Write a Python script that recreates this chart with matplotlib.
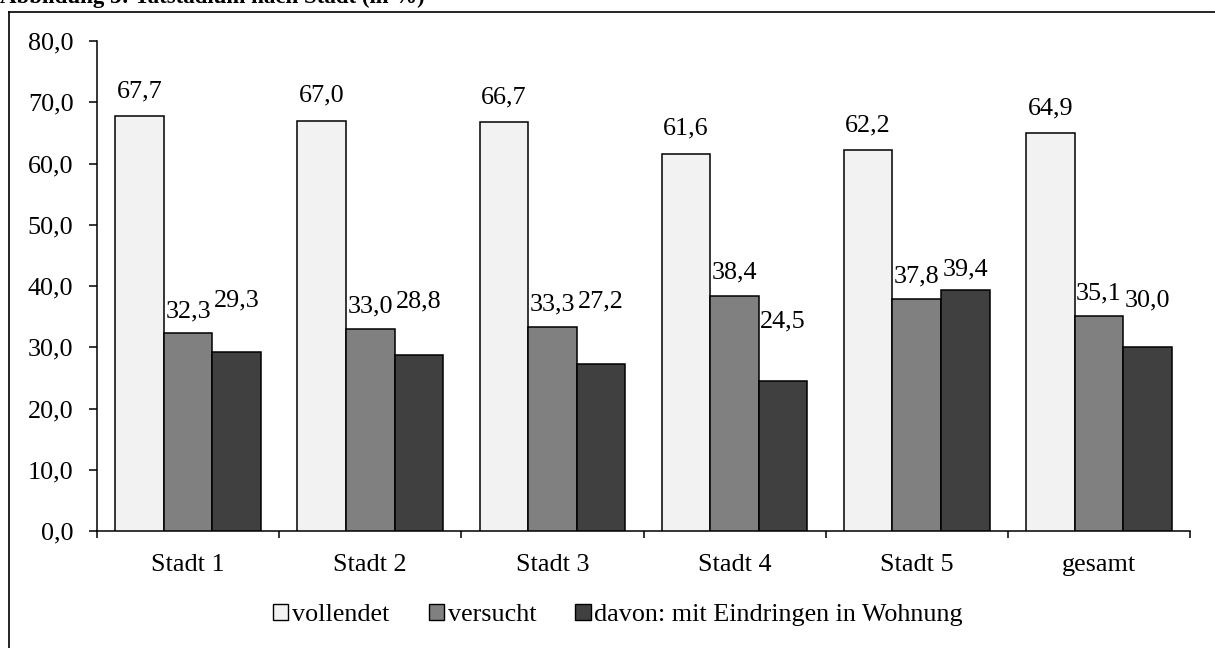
import matplotlib
matplotlib.use("Agg")
import matplotlib.pyplot as plt
from matplotlib.patches import Patch
from matplotlib.lines import Line2D
import numpy as np

categories = ["Stadt 1", "Stadt 2", "Stadt 3", "Stadt 4", "Stadt 5", "gesamt"]
vollendet = [67.7, 67.0, 66.7, 61.6, 62.2, 64.9]
versucht = [32.3, 33.0, 33.3, 38.4, 37.8, 35.1]
davon = [29.3, 28.8, 27.2, 24.5, 39.4, 30.0]
series_names = ["vollendet", "versucht", "davon: mit Eindringen in Wohnung"]
yticks = [0, 10, 20, 30, 40, 50, 60, 70, 80]
title = "Abbildung 3: Tatstadium nach Stadt (in %)"

colors = ["#f2f2f2", "#808080", "#404040"]
# label offsets above bar tops (points)
off_voll = [18.0] * 6
off_vers = [15.5, 16.5, 16.5, 16.5, 16.5, 16.5]
off_davon = [36.5, 38.5, 45.5, 42.5, 14.5, 33.5]

plt.rcParams['font.family'] = ['Liberation Serif', 'DejaVu Serif']
FS = 18.8

fig = plt.figure(figsize=(12.15, 6.48), dpi=100)
W, H = 1215, 648
ax = fig.add_axes([97 / W, 1 - 531 / H, (1190 - 97) / W, (531 - 41) / H])

x = np.arange(len(categories))
bw = 0.2667
series = [vollendet, versucht, davon]
offsets = [off_voll, off_vers, off_davon]
handles = []
for i, (vals, col, offs, name) in enumerate(zip(series, colors, offsets, series_names)):
    xs = x + (i - 1) * bw
    ax.bar(xs, vals, width=bw, color=col, edgecolor="black", linewidth=1.1, zorder=3)
    for xi, v, o in zip(xs, vals, offs):
        ax.annotate(f"{v:.1f}".replace(".", ","), (xi, v), xytext=(0, o),
                    textcoords="offset points", ha="center", va="center", fontsize=FS)
    handles.append(Patch(facecolor=col, edgecolor="black", linewidth=1.0, label=name))

ax.set_xlim(-0.5, len(categories) - 0.5)
ax.set_ylim(0, 80)
ax.set_yticks(yticks)
ax.set_yticklabels([f"{t:.1f}".replace(".", ",") for t in yticks], fontsize=FS)
ax.set_xticks(x)
ax.set_xticklabels(categories, fontsize=FS)
ax.set_xticks(np.arange(len(categories) + 1) - 0.5, minor=True)
ax.tick_params(axis="x", which="major", length=0, pad=16.5)
ax.tick_params(axis="x", which="minor", length=5, width=1.1, direction="out")
ax.tick_params(axis="y", length=6, width=1.1, direction="out", pad=11)
for s in ["top", "right"]:
    ax.spines[s].set_visible(False)
for s in ["left", "bottom"]:
    ax.spines[s].set_linewidth(1.1)

fig.legend(handles=handles, loc="center", bbox_to_anchor=(618 / W, 1 - 615 / H),
           ncol=3, frameon=False, fontsize=FS, handlelength=0.58, handleheight=0.58,
           handletextpad=0.15, columnspacing=1.5, borderpad=0, borderaxespad=0)

# outer frame (left and top visible)
fig.add_artist(Line2D([9 / W, 9 / W], [0, 1 - 12 / H], transform=fig.transFigure,
                      color="black", linewidth=1.2))
fig.add_artist(Line2D([9 / W, 1], [1 - 12 / H, 1 - 12 / H], transform=fig.transFigure,
                      color="black", linewidth=1.2))
fig.text(0.5 / W, 1 - 3.5 / H, title, fontsize=16.5, fontweight="bold", ha="left", va="baseline")

fig.savefig("out.png", dpi=100)
